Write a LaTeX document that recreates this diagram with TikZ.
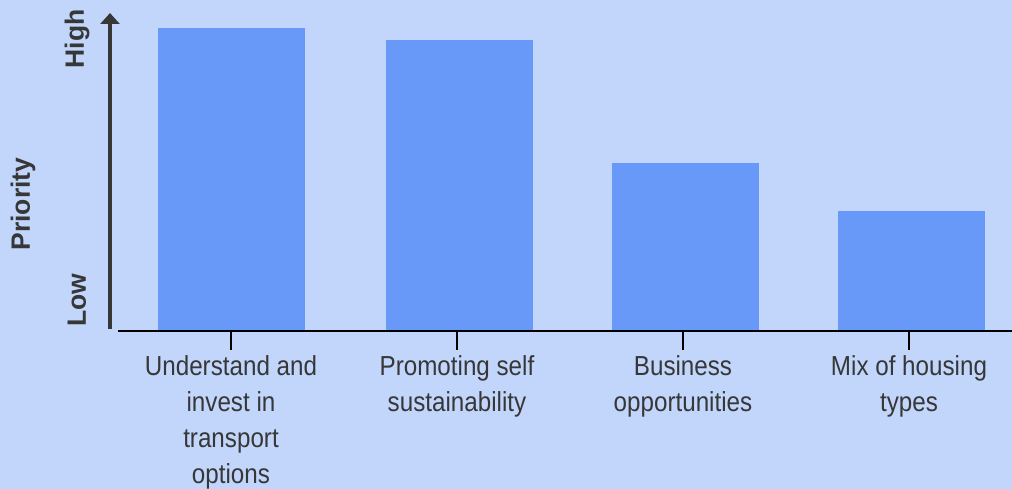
\documentclass[tikz,border=0pt]{standalone}
\usepackage{fontspec}
\setmainfont[FakeStretch=0.88]{Liberation Sans}
\newfontfamily\axisfont{Liberation Sans}
\usetikzlibrary{arrows.meta}

\definecolor{bgblue}{RGB}{194,214,252}
\definecolor{barblue}{RGB}{105,153,248}
\definecolor{inkgray}{RGB}{55,55,55}

\tikzset{
  bar/.style={fill=barblue,draw=none},
  catlabel/.style={anchor=north,inner sep=0pt,align=center,text=inkgray,
    font=\fontsize{27.5}{36}\selectfont},
  prioritylabel/.style={rotate=90,inner sep=0pt,text=inkgray,
    font=\axisfont\bfseries\fontsize{26.5}{30}\selectfont},
}

\begin{document}
\begin{tikzpicture}[x=1pt,y=-1pt]
  \fill[bgblue] (0,0) rectangle (1012,489);
  \useasboundingbox (0,0) rectangle (1012,489);

  % bars, ticks and category labels
  \foreach \x/\bl/\h/\txt [count=\i] in {
      231/158/28/{Understand and\\invest in\\transport\\options},
      457/386/40/{Promoting self\\sustainability},
      683/612/163/{Business\\opportunities},
      909/838/211/{Mix of housing\\types}}{
    \fill[bar] (\bl,331) rectangle ++(147,-331+\h);
    \coordinate (tick\i) at (\x,331);
    \coordinate (tickend\i) at (\x,350);
    \draw[line width=2pt,black] (tick\i) -- (tickend\i);
    \node(cat\i)[catlabel] at (\x,355) {\txt};
  }

  % axes
  \coordinate (yorig) at (110,329);
  \coordinate (ytop) at (110,13);
  \coordinate (xorig) at (118,331);
  \coordinate (xend) at (1012,331);
  \draw[line width=2pt,black] (xorig) -- (xend);
  \draw[line width=3.5pt,inkgray,-{Triangle[width=19pt,length=11pt]}] (yorig) -- (ytop);

  \node(high)[prioritylabel] at (77,39) {High};
  \node(low)[prioritylabel] at (77,300) {Low};
  \node(prio)[prioritylabel] at (23,204) {Priority};
\end{tikzpicture}
\end{document}
